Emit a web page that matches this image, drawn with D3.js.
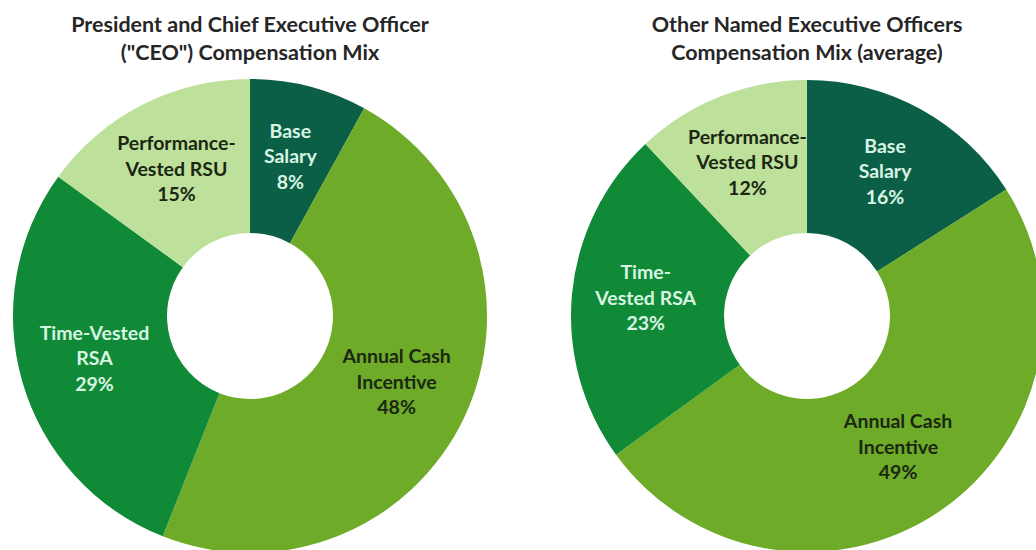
<!DOCTYPE html>
<html>
<head>
<meta charset="utf-8">
<script src="https://cdn.jsdelivr.net/npm/d3@7"></script>
<style>
    body { margin: 0; background: #fff; }
    svg { display: block; }
</style>
</head>
<body>
<div id="chart"></div>
<script>
// 类别与两组数据（百分比）
const categories = ['Base Salary', 'Annual Cash Incentive', 'Time-Vested RSA', 'Performance-Vested RSU']
const ceoValues = [8, 48, 29, 15]
const neoValues = [16, 49, 23, 12]

// 标题
const ceoTitle = ['President and Chief Executive Officer', '("CEO") Compensation Mix']
const neoTitle = ['Other Named Executive Officers', 'Compensation Mix (average)']

// 扇区内标签的换行方式（两张图不完全一样）
const ceoLabelLines = [['Base', 'Salary'], ['Annual Cash', 'Incentive'], ['Time-Vested', 'RSA'], ['Performance-', 'Vested RSU']]
const neoLabelLines = [['Base', 'Salary'], ['Annual Cash', 'Incentive'], ['Time-', 'Vested RSA'], ['Performance-', 'Vested RSU']]

const colors = ['#0c5f47', '#6dab28', '#118a37', '#bde09b']
const textColors = ['#d8f5e2', '#1b2712', '#d8f5e2', '#1b2712']

const width = 1036
const height = 550
const font = 'Lato, "Open Sans", sans-serif'

const svg = d3.select('#chart').append('svg')
    .attr('width', width)
    .attr('height', height)
    .attr('viewBox', `0 0 ${width} ${height}`)

const color = d3.scaleOrdinal().domain(categories).range(colors)
const textColor = d3.scaleOrdinal().domain(categories).range(textColors)

const drawDonut = (cx, cy, outerR, innerR, values, title, labelLines) => {
    const data = categories.map((c, i) => ({ cat: c, value: values[i], lines: labelLines[i] }))

    const pie = d3.pie().value(d => d.value).sort(null)
    const arc = d3.arc().innerRadius(innerR).outerRadius(outerR)
    const labelArc = d3.arc().innerRadius(162).outerRadius(162)

    // 标题
    svg.append('text')
        .attr('x', cx)
        .attr('y', 32)
        .attr('text-anchor', 'middle')
        .attr('font-family', font)
        .attr('font-weight', 700)
        .attr('font-size', 21.5)
        .attr('fill', '#262626')
        .selectAll('tspan')
        .data(title)
        .join('tspan')
        .attr('x', cx)
        .attr('dy', (d, i) => i === 0 ? 0 : 28)
        .text(d => d)

    const g = svg.append('g').attr('transform', `translate(${cx},${cy})`)

    const arcs = pie(data)

    g.selectAll('path')
        .data(arcs)
        .join('path')
        .attr('d', arc)
        .attr('fill', d => color(d.data.cat))

    // 标签：三行，最后一行是百分比
    g.selectAll('text')
        .data(arcs)
        .join('text')
        .attr('transform', d => {
            const [x, y] = labelArc.centroid(d)
            return `translate(${x},${y - 3})`
        })
        .attr('text-anchor', 'middle')
        .attr('font-family', font)
        .attr('font-weight', 700)
        .attr('font-size', 19.5)
        .attr('fill', d => textColor(d.data.cat))
        .selectAll('tspan')
        .data(d => [...d.data.lines, `${d.data.value}%`])
        .join('tspan')
        .attr('x', 0)
        .attr('y', (d, i) => (i - 1) * 25.5 + 7)
        .text(d => d)
}

drawDonut(250, 316, 237, 83, ceoValues, ceoTitle, ceoLabelLines)
drawDonut(807, 316, 236, 83, neoValues, neoTitle, neoLabelLines)
</script>
</body>
</html>
